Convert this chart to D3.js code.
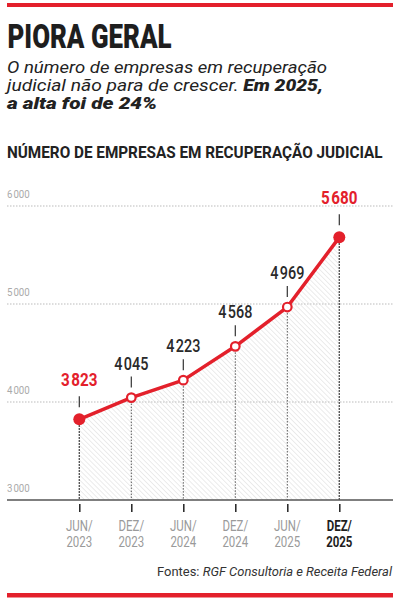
<!DOCTYPE html>
<html>
<head>
<meta charset="utf-8">
<script src="https://cdn.jsdelivr.net/npm/d3@7/dist/d3.min.js"></script>
<style>
  html, body { margin: 0; padding: 0; background: #fff; }
  svg { display: block; }
  .cond { font-family: "Roboto", "Liberation Sans", sans-serif; }
  .sans { font-family: "Roboto", "Liberation Sans", sans-serif; }
</style>
</head>
<body>
<svg width="400" height="601"></svg>
<script>
// data
var months = ["JUN/", "DEZ/", "JUN/", "DEZ/", "JUN/", "DEZ/"];
var years = ["2023", "2023", "2024", "2024", "2025", "2025"];
var values = [3823, 4045, 4223, 4568, 4969, 5680];
var yTicks = [3000, 4000, 5000, 6000];

var red = "#e3202b";
var svg = d3.select("svg");

var locale = d3.formatLocale({decimal: ",", thousands: "\u200A", grouping: [3], currency: ["R$", ""]});
var fmt = locale.format(",d");

// squeeze a text horizontally (no narrow fonts installed)
function squeeze(sel, k) {
  sel.each(function() {
    var w = this.getComputedTextLength();
    d3.select(this).attr("textLength", w * k).attr("lengthAdjust", "spacingAndGlyphs");
  });
}

var periods = months.map(function(m, i) { return m + years[i]; });
var data = values.map(function(v, i) { return {p: periods[i], v: v, i: i}; });
var isEnd = function(i) { return i == 0 || i == data.length - 1; };

var x = d3.scalePoint().domain(periods).range([79.3, 339.3]);
var y = d3.scaleLinear().domain([3000, 6000]).range([500, 206]);

// frame bars
svg.append("rect").attr("x", 7).attr("y", 3).attr("width", 386).attr("height", 4).attr("fill", red);
svg.append("rect").attr("x", 7).attr("y", 593).attr("width", 386).attr("height", 4.5).attr("fill", red);

// headings
svg.append("text").attr("class", "cond")
  .attr("x", 7.5).attr("y", 47.5)
  .attr("font-size", 34).attr("font-weight", "900").attr("fill", "#1e1e1e")
  .attr("textLength", 164).attr("lengthAdjust", "spacingAndGlyphs")
  .text("PIORA GERAL");

var sub = svg.append("g").attr("class", "sans").attr("font-size", 16.5)
  .attr("font-style", "italic").attr("fill", "#222");
sub.append("text").attr("x", 7).attr("y", 73)
  .attr("textLength", 320).attr("lengthAdjust", "spacingAndGlyphs")
  .text("O número de empresas em recuperação");
var l2 = sub.append("text").attr("x", 7).attr("y", 91)
  .attr("textLength", 316).attr("lengthAdjust", "spacingAndGlyphs");
l2.append("tspan").text("judicial não para de crescer. ");
l2.append("tspan").attr("font-weight", "900").text("Em 2025,");
sub.append("text").attr("x", 7).attr("y", 109).attr("font-weight", "900")
  .attr("textLength", 150).attr("lengthAdjust", "spacingAndGlyphs")
  .text("a alta foi de 24%");

var ct = svg.append("text").attr("class", "cond")
  .attr("x", 0).attr("y", 0)
  .attr("font-size", 17).attr("font-weight", "bold").attr("fill", "#222")
  .text("NÚMERO DE EMPRESAS EM RECUPERAÇÃO JUDICIAL");
var ctw = ct.node().getComputedTextLength();
ct.attr("transform", "translate(7,157.5) scale(" + (376 / ctw) + ",1)");

// hatch pattern
var defs = svg.append("defs");
var pat = defs.append("pattern").attr("id", "hatch")
  .attr("patternUnits", "userSpaceOnUse").attr("width", 3.5).attr("height", 3.5)
  .attr("patternTransform", "rotate(-45)");
pat.append("line").attr("x1", 0).attr("y1", 0).attr("x2", 0).attr("y2", 3.5)
  .attr("stroke", "#cfcfcf").attr("stroke-width", 0.8);

// grid
var grid = svg.append("g");
grid.selectAll("line").data(yTicks.filter(function(t) { return t > 3000; })).enter()
  .append("line")
  .attr("x1", 7).attr("x2", 393)
  .attr("y1", function(d) { return y(d); }).attr("y2", function(d) { return y(d); })
  .attr("stroke", "#bbb").attr("stroke-width", 1).attr("stroke-dasharray", "1.5,1.5");
grid.selectAll("text").data(yTicks).enter().append("text")
  .attr("class", "cond")
  .attr("x", 7).attr("y", function(d) { return y(d) - 8; })
  .attr("font-size", 11).attr("fill", "#aaa")
  .text(function(d) { return fmt(d); })
  .call(squeeze, 0.88);

// area
var area = d3.area().x(function(d) { return x(d.p); }).y0(y(3000)).y1(function(d) { return y(d.v); });
svg.append("path").datum(data).attr("d", area).attr("fill", "url(#hatch)");

// drop lines
svg.append("g").selectAll("line").data(data).enter().append("line")
  .attr("x1", function(d) { return x(d.p); }).attr("x2", function(d) { return x(d.p); })
  .attr("y1", function(d) { return y(d.v); }).attr("y2", y(3000))
  .attr("stroke", function(d, i) { return isEnd(i) ? "#222" : "#555"; })
  .attr("stroke-width", function(d, i) { return isEnd(i) ? 1.4 : 1; })
  .attr("stroke-dasharray", "1.5,1.5");

// axis
var xAxis = d3.axisBottom(x).tickSize(8).tickFormat("");
var ax = svg.append("g").attr("transform", "translate(0," + (y(3000) + 4) + ")").call(xAxis);
ax.select(".domain").remove();
ax.selectAll(".tick line").attr("stroke", "#222").attr("stroke-width", 1.5);
svg.append("line").attr("x1", 7).attr("x2", 393).attr("y1", y(3000)).attr("y2", y(3000))
  .attr("stroke", "#555").attr("stroke-width", 1.3);

[[months, 530.5], [years, 547]].forEach(function(row) {
  svg.append("g").selectAll("text").data(data).enter().append("text")
    .attr("class", "cond").attr("text-anchor", "middle")
    .attr("x", function(d) { return x(d.p); }).attr("y", row[1])
    .attr("font-size", 15.5)
    .attr("font-weight", function(d, i) { return i == data.length - 1 ? "bold" : "normal"; })
    .attr("fill", function(d, i) { return i == data.length - 1 ? "#1e1e1e" : "#9a9a9a"; })
    .text(function(d) { return row[0][d.i]; })
    .call(squeeze, 0.74);
});

// line
var line = d3.line().x(function(d) { return x(d.p); }).y(function(d) { return y(d.v); });
svg.append("path").datum(data).attr("d", line)
  .attr("fill", "none").attr("stroke", red).attr("stroke-width", 3.5).attr("stroke-linejoin", "round");

// points
svg.append("g").selectAll("circle").data(data).enter().append("circle")
  .attr("cx", function(d) { return x(d.p); }).attr("cy", function(d) { return y(d.v); })
  .attr("r", function(d, i) { return isEnd(i) ? 6 : 4.3; })
  .attr("fill", function(d, i) { return isEnd(i) ? red : "#fff"; })
  .attr("stroke", red).attr("stroke-width", function(d, i) { return isEnd(i) ? 0 : 2.2; });

// value labels with small ticks
var lab = svg.append("g");
lab.selectAll("line").data(data).enter().append("line")
  .attr("x1", function(d) { return x(d.p); }).attr("x2", function(d) { return x(d.p); })
  .attr("y1", function(d, i) { return y(d.v) - (isEnd(i) ? 23 : 21); })
  .attr("y2", function(d, i) { return y(d.v) - (isEnd(i) ? 12 : 10); })
  .attr("stroke", "#333").attr("stroke-width", 1.2);
lab.selectAll("text").data(data).enter().append("text")
  .attr("class", "cond").attr("text-anchor", "middle")
  .attr("x", function(d) { return x(d.p); })
  .attr("y", function(d, i) { return y(d.v) - (isEnd(i) ? 33 : 28); })
  .attr("font-size", function(d, i) { return isEnd(i) ? 19 : 18; })
  .attr("font-weight", function(d, i) { return isEnd(i) ? "bold" : "500"; })
  .attr("fill", function(d, i) { return isEnd(i) ? red : "#2a2a2a"; })
  .text(function(d) { return fmt(d.v); })
  .call(squeeze, 0.8);

// source
var src = svg.append("text").attr("class", "sans").attr("x", 392).attr("y", 576)
  .attr("text-anchor", "end").attr("font-size", 12.3).attr("fill", "#333")
  .attr("textLength", 235).attr("lengthAdjust", "spacingAndGlyphs");
src.append("tspan").text("Fontes: ");
src.append("tspan").attr("font-style", "italic").text("RGF Consultoria e Receita Federal");
</script>
</body>
</html>
